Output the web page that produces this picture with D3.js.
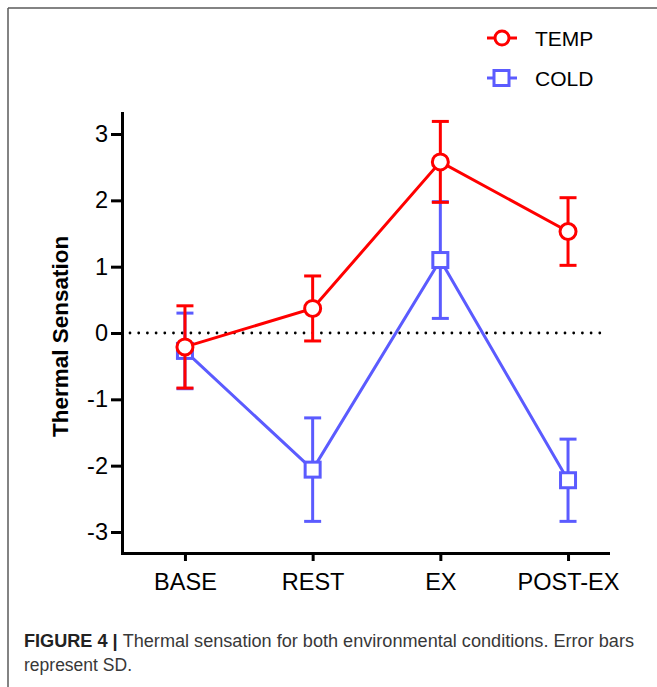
<!DOCTYPE html>
<html>
<head>
<meta charset="utf-8">
<script src="https://cdn.jsdelivr.net/npm/d3@7"></script>
<style>
  body { margin: 0; background: #fff; }
  svg { display: block; font-family: "Liberation Sans", Arial, Helvetica, sans-serif; }
</style>
</head>
<body>
<svg id="chart" width="657" height="687"></svg>
<script>
// thermal sensation, means and SD
var categories = ["BASE", "REST", "EX", "POST-EX"];
var tempMean = [-0.21, 0.37, 2.58, 1.53];
var tempSD = [0.62, 0.49, 0.61, 0.51];
var coldMean = [-0.27, -2.06, 1.10, -2.22];
var coldSD = [0.57, 0.78, 0.88, 0.62];
var yTicks = [-3, -2, -1, 0, 1, 2, 3];
var seriesNames = ["TEMP", "COLD"];

var red = "#ff0000";
var blue = "#5b5bff";

var svg = d3.select("#chart");

// frame (top + left only, as in the page)
svg.append("line").attr("x1", 8).attr("y1", 8).attr("x2", 657).attr("y2", 8)
    .attr("stroke", "#5a5a5a").attr("stroke-width", 1.5);
svg.append("line").attr("x1", 8).attr("y1", 8).attr("x2", 8).attr("y2", 687)
    .attr("stroke", "#5a5a5a").attr("stroke-width", 1.5);

var xScale = d3.scaleLinear()
    .domain([-0.493, 3.313])
    .range([122, 608]);
var yScale = d3.scaleLinear()
    .domain([-3.317, 3.317])
    .range([553, 113]);

var xAxis = d3.axisBottom(xScale)
    .tickValues([0, 1, 2, 3])
    .tickFormat(function (i) { return categories[i]; })
    .tickSize(8)
    .tickSizeOuter(0)
    .tickPadding(12);
var yAxis = d3.axisLeft(yScale)
    .tickValues(yTicks)
    .tickFormat(function (d) { return String(d); })
    .tickSize(11)
    .tickSizeOuter(0)
    .tickPadding(3);

// zero line, dotted
svg.append("line")
    .attr("x1", xScale.range()[0] + 8)
    .attr("x2", xScale.range()[1] - 4)
    .attr("y1", yScale(0))
    .attr("y2", yScale(0))
    .attr("stroke", "#000")
    .attr("stroke-width", 2.8)
    .attr("stroke-linecap", "round")
    .attr("stroke-dasharray", "0 8.7");

var gx = svg.append("g")
    .attr("transform", "translate(0," + yScale.range()[0] + ")")
    .call(xAxis);
var gy = svg.append("g")
    .attr("transform", "translate(" + xScale.range()[0] + ",0)")
    .call(yAxis);

[gx, gy].forEach(function (g) {
    g.selectAll("path.domain").attr("stroke", "#000").attr("stroke-width", 3).attr("stroke-linecap", "square");
    g.selectAll(".tick line").attr("stroke", "#000").attr("stroke-width", 3);
    g.selectAll(".tick text")
        .attr("fill", "#000")
        .style("font-family", "'Liberation Sans', Arial, sans-serif")
        .style("font-size", "23.5px");
});

// y axis title
svg.append("text")
    .attr("transform", "translate(68," + yScale(-0.05) + ") rotate(-90)")
    .attr("text-anchor", "middle")
    .style("font-size", "22.5px")
    .style("font-weight", "bold")
    .attr("fill", "#000")
    .text("Thermal Sensation");

function drawSeries(means, sds, color, shape) {
    var g = svg.append("g");
    var pts = means.map(function (m, i) { return { i: i, m: m, sd: sds[i] }; });
    var line = d3.line()
        .x(function (d) { return xScale(d.i); })
        .y(function (d) { return yScale(d.m); });
    var cap = 8.5;

    // error bars
    pts.forEach(function (d) {
        var cx = xScale(d.i);
        g.append("line")
            .attr("x1", cx).attr("x2", cx)
            .attr("y1", yScale(d.m + d.sd)).attr("y2", yScale(d.m - d.sd))
            .attr("stroke", color).attr("stroke-width", 3);
        [d.m + d.sd, d.m - d.sd].forEach(function (v) {
            g.append("line")
                .attr("x1", cx - cap).attr("x2", cx + cap)
                .attr("y1", yScale(v)).attr("y2", yScale(v))
                .attr("stroke", color).attr("stroke-width", 3);
        });
    });

    g.append("path")
        .datum(pts)
        .attr("d", line)
        .attr("fill", "none")
        .attr("stroke", color)
        .attr("stroke-width", 3);

    pts.forEach(function (d) {
        var cx = xScale(d.i), cy = yScale(d.m);
        if (shape === "circle") {
            g.append("circle")
                .attr("cx", cx).attr("cy", cy).attr("r", 8)
                .attr("fill", "#fff").attr("stroke", color).attr("stroke-width", 3);
        } else {
            g.append("rect")
                .attr("x", cx - 7.5).attr("y", cy - 7.5)
                .attr("width", 15).attr("height", 15)
                .attr("fill", "#fff").attr("stroke", color).attr("stroke-width", 3);
        }
    });
}

drawSeries(coldMean, coldSD, blue, "square");
drawSeries(tempMean, tempSD, red, "circle");

// legend
var legend = svg.append("g");
var legendItems = [
    { name: seriesNames[0], color: red, shape: "circle", y: 38 },
    { name: seriesNames[1], color: blue, shape: "square", y: 78 }
];
legendItems.forEach(function (d) {
    legend.append("line")
        .attr("x1", 487).attr("x2", 517)
        .attr("y1", d.y).attr("y2", d.y)
        .attr("stroke", d.color).attr("stroke-width", 3);
    if (d.shape === "circle") {
        legend.append("circle")
            .attr("cx", 502).attr("cy", d.y).attr("r", 7)
            .attr("fill", "#fff").attr("stroke", d.color).attr("stroke-width", 3);
    } else {
        legend.append("rect")
            .attr("x", 494).attr("y", d.y - 7.5)
            .attr("width", 15).attr("height", 15)
            .attr("fill", "#fff").attr("stroke", d.color).attr("stroke-width", 3);
    }
    legend.append("text")
        .attr("x", 535).attr("y", d.y + 7.5)
        .style("font-size", "21px")
        .attr("fill", "#000")
        .text(d.name);
});

// caption
var cap1 = svg.append("text")
    .attr("x", 24).attr("y", 647)
    .style("font-size", "17.5px")
    .attr("fill", "#383838")
    .attr("textLength", 610)
    .attr("lengthAdjust", "spacingAndGlyphs");
cap1.append("tspan").style("font-weight", "bold").attr("fill", "#222").text("FIGURE 4 | ");
cap1.append("tspan").text("Thermal sensation for both environmental conditions. Error bars");

svg.append("text")
    .attr("x", 24).attr("y", 671)
    .style("font-size", "17.5px")
    .attr("fill", "#383838")
    .attr("textLength", 108)
    .attr("lengthAdjust", "spacingAndGlyphs")
    .text("represent SD.");
</script>
</body>
</html>
